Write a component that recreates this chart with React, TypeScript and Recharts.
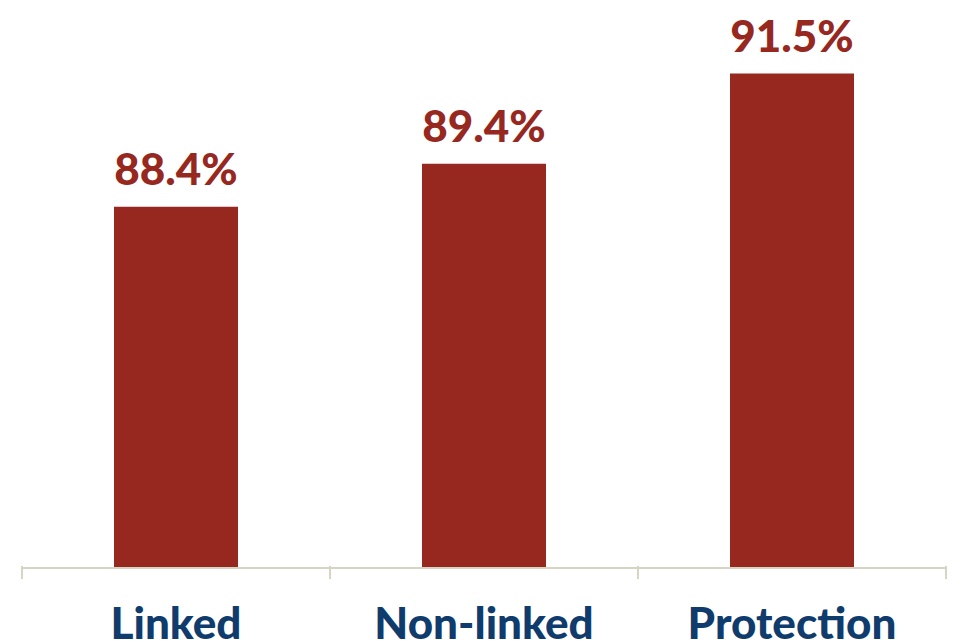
import { BarChart, Bar, XAxis, YAxis, LabelList } from 'recharts'

const categories = ['Linked', 'Non-linked', 'Protection']
const values = [88.4, 89.4, 91.5]

const data = categories.map((name, i) => ({ name, value: values[i] }))

const W = 966
const H = 643
const margin = { top: 9, right: 20, left: 22, bottom: 0 }
const halfBand = (W - margin.left - margin.right) / categories.length / 2

function CategoryTick(props: any) {
  const { x, y, payload, index } = props
  const axisY = y - 10
  return (
    <g>
      <line x1={x - halfBand} x2={x - halfBand} y1={axisY} y2={axisY + 13} stroke="#d6d4c2" strokeWidth={2} />
      {index === categories.length - 1 && (
        <line x1={x + halfBand} x2={x + halfBand} y1={axisY} y2={axisY + 13} stroke="#d6d4c2" strokeWidth={2} />
      )}
      <text x={x} y={axisY + 73} textAnchor="middle" fill="#0f3c6c" fontSize={44} fontWeight={900} fontFamily="Lato">
        {payload.value}
      </text>
    </g>
  )
}

export default function App() {
  return (
    <div style={{ position: 'absolute', left: 0, top: 0, background: '#fff' }}>
      <BarChart width={W} height={H} data={data} margin={margin}>
        <XAxis
          dataKey="name"
          height={75}
          axisLine={{ stroke: '#d6d4c2', strokeWidth: 2 }}
          tickLine={false}
          tick={<CategoryTick />}
          interval={0}
        />
        <YAxis hide domain={[80, 93]} />
        <Bar dataKey="value" fill="#97281f" barSize={124} isAnimationActive={false}>
          <LabelList
            dataKey="value"
            position="top"
            offset={22}
            formatter={(v: any) => `${Number(v).toFixed(1)}%`}
            fill="#97281f"
            fontSize={44}
            fontWeight={900}
            fontFamily="Lato"
          />
        </Bar>
      </BarChart>
    </div>
  )
}
